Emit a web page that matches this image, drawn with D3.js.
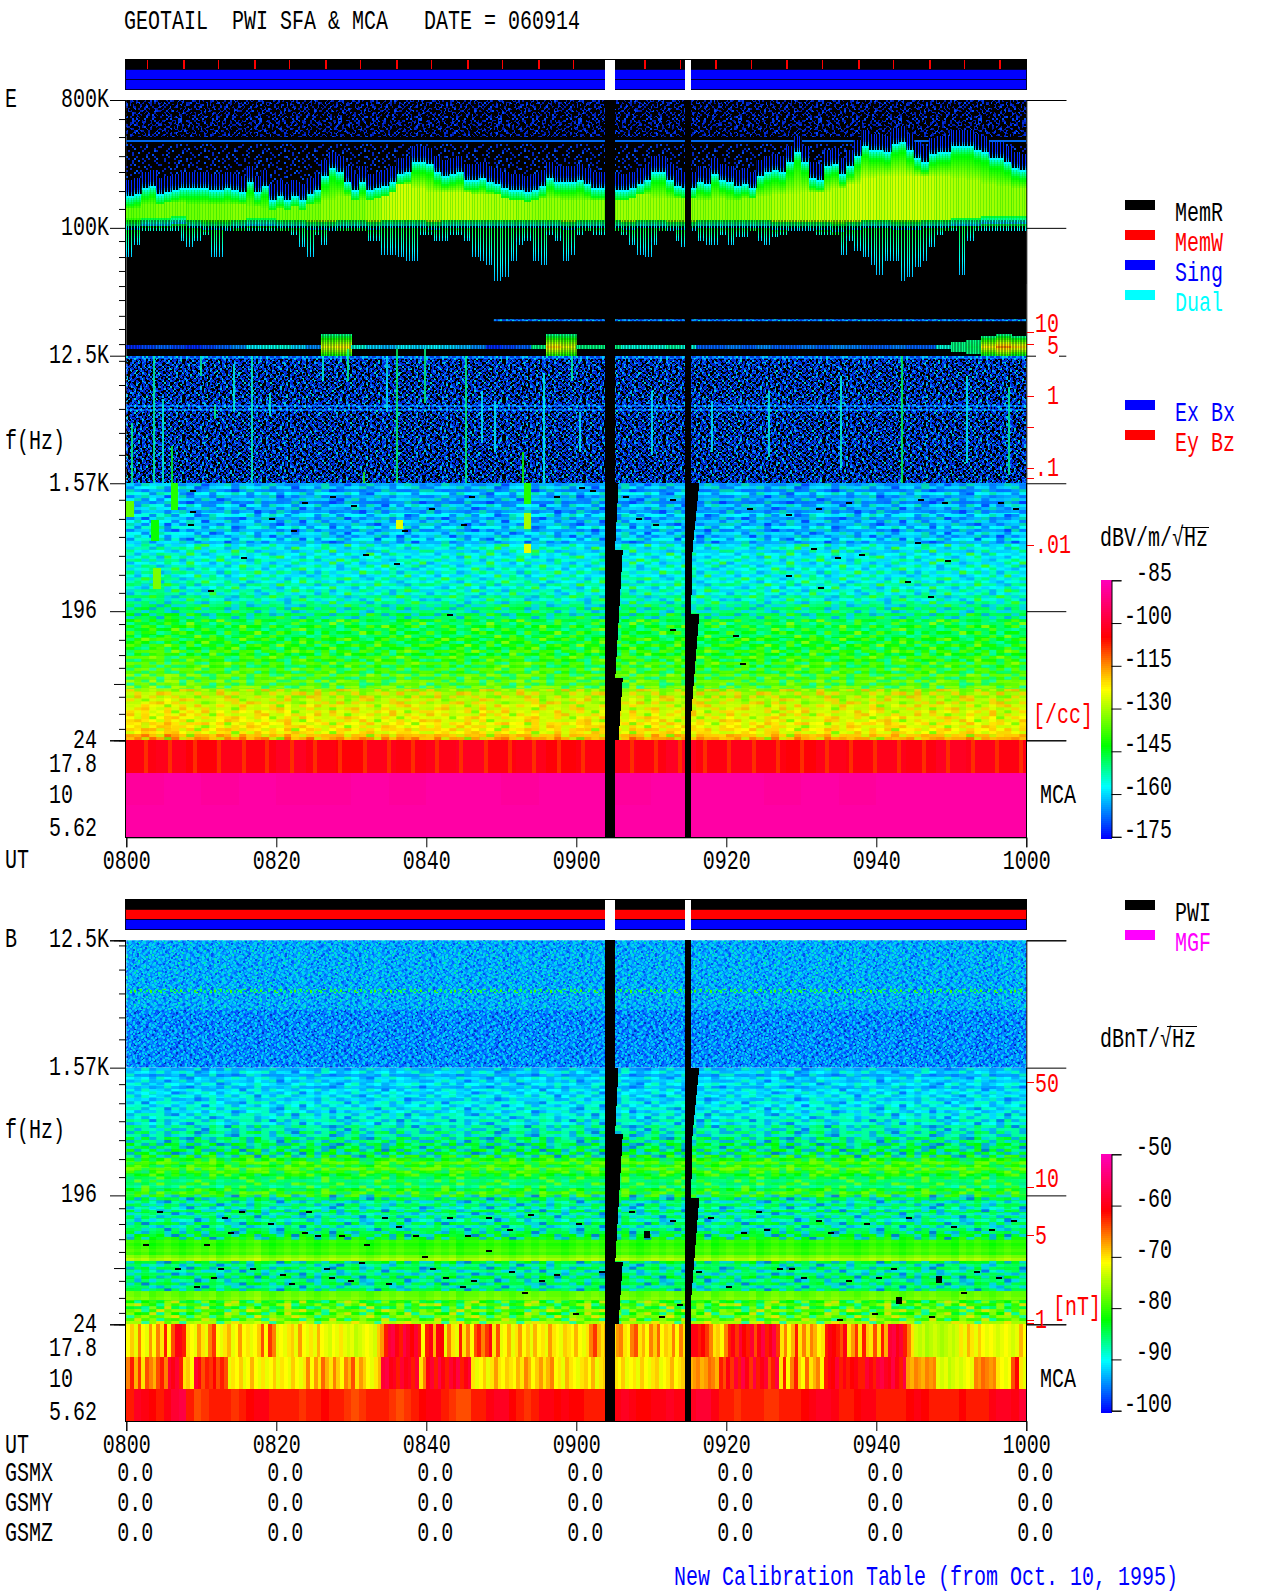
<!DOCTYPE html>
<html>
<head>
<meta charset="utf-8">
<script src="https://cdn.jsdelivr.net/npm/d3@7"></script>
<style>
  html, body { margin: 0; padding: 0; background: #fff; }
  svg { display: block; }
  text { font-family: "Liberation Mono", monospace; white-space: pre; }
</style>
</head>
<body>
<svg id="chart" width="1280" height="1593"></svg>
<script>
// time axis, minutes after 0800
const utTicks = [0, 20, 40, 60, 80, 100, 120];
const utLabels = ["0800", "0820", "0840", "0900", "0920", "0940", "1000"];
const gsmX = [0, 0, 0, 0, 0, 0, 0];
const gsmY = [0, 0, 0, 0, 0, 0, 0];
const gsmZ = [0, 0, 0, 0, 0, 0, 0];

// frequency ticks (Hz)
const majorHz = [800000, 100000, 12500, 1570, 196, 24];
const minorHz = [587000, 438000, 321000, 248000, 182000, 136000, 80700, 62200, 49600, 38800, 30900, 23900, 19300, 15100, 11500, 7760, 5260, 3560, 2490, 1200, 879, 656, 482, 354, 264, 159, 123, 96, 78, 48.7, 36.9, 28.9];
const midHz = [60];
const mcaChannels = ["17.8", "10", "5.62"];

// data gaps, minutes
const gapSpans = [[63.83, 65.17], [74.48, 75.35]];
// gap right edge as it walks down the low frequency bands [minute, Hz]
const gapEdge1 = [[65.17, 1570], [65.63, 1570], [65.17, 531], [66.2, 531], [65.2, 66.5], [66.2, 66.5], [65.63, 24], [65.17, 24]];
const gapEdge2 = [[75.35, 1570], [76.4, 1570], [75.5, 531], [75.3, 187], [76.4, 187], [75.3, 35], [75.3, 24]];

// red marks in the mode bar, minutes
const modeMarks = [2.8, 7.53, 12.27, 17, 21.73, 26.47, 31.2, 35.93, 40.67, 45.4, 50.13, 54.87, 59.6, 69.05, 73.8, 78.5, 83.3, 88, 92.7, 97.5, 102.2, 107, 111.7, 116.4];

// E field, main band, one value per minute, channels counted down from 800K (128 channels to 12.5K)
const bandTop = [45, 44, 41, 40, 44, 43, 42, 41, 41, 41, 41, 42, 42, 41, 42, 43, 38, 43, 40, 47, 45, 47, 45, 47, 44, 42, 35, 31, 33, 38, 42, 38, 42, 41, 40, 38, 34, 33, 28, 28, 29, 33, 35, 34, 33, 37, 37, 36, 38, 39, 41, 42, 42, 43, 42, 40, 36, 38, 38, 38, 37, 39, 41, 41, 41, 42, 42, 41, 39, 37, 33, 33, 37, 40, 41, 41, 38, 39, 34, 37, 38, 40, 39, 41, 35, 33, 32, 33, 28, 23, 28, 36, 37, 30, 29, 34, 30, 25, 20, 22, 22, 23, 19, 18, 22, 26, 28, 24, 23, 23, 20, 20, 20, 22, 23, 26, 26, 28, 31, 32];
const tailBottom = [78, 72, 65, 65, 65, 65, 65, 70, 73, 70, 67, 78, 78, 65, 65, 65, 65, 65, 65, 65, 65, 65, 67, 73, 78, 67, 72, 65, 65, 65, 65, 65, 70, 70, 77, 77, 78, 80, 80, 67, 67, 70, 70, 67, 67, 70, 78, 80, 82, 90, 88, 80, 72, 70, 80, 82, 67, 70, 80, 77, 67, 65, 67, 67, 65, 65, 67, 72, 77, 78, 72, 65, 65, 70, 73, 65, 70, 72, 72, 67, 72, 68, 68, 65, 70, 72, 68, 67, 65, 65, 65, 65, 67, 67, 67, 77, 70, 75, 78, 82, 87, 80, 80, 90, 88, 83, 80, 73, 67, 65, 65, 87, 70, 65, 65, 65, 65, 65, 65, 65];
// one value per 2 minutes
const coreTop = [54, 52, 51, 51, 52, 52, 52, 52, 53, 54, 54, 53, 52, 50, 48, 50, 47, 44, 42, 44, 46, 46, 46, 47, 47, 47, 48, 49, 49, 50, 50, 50, 50, 48, 47, 49, 49, 48, 50, 49, 50, 49, 48, 47, 47, 46, 46, 44, 42, 39, 38, 38, 38, 38, 38, 39, 40, 42, 43, 44];
const coreBottom = [58, 58, 59, 59, 59, 59, 59, 60, 60, 60, 60, 60, 60, 60, 59, 59, 60, 60, 61, 61, 60, 60, 60, 60, 60, 60, 60, 60, 59, 60, 60, 60, 60, 60, 59, 60, 60, 60, 60, 60, 60, 60, 60, 61, 61, 60, 60, 60, 60, 60, 59, 59, 59, 59, 60, 60, 59, 59, 58, 58];
const bandBottom = [65, 63, 63, 62, 64, 65, 65, 64, 63, 63, 64, 64, 65, 65, 64, 64, 65, 64, 64, 64, 65, 64, 64, 64, 64, 64, 64, 64, 64, 65, 64, 64, 64, 65, 64, 64, 65, 65, 64, 64, 64, 64, 64, 65, 65, 65, 65, 66, 65, 64, 64, 65, 65, 64, 64, 63, 63, 62, 62, 62];
const coreDb = [-135, -134, -133, -133, -134, -133, -133, -132, -133, -134, -133, -133, -133, -131, -131, -132, -130, -127, -126, -127, -128, -127, -127, -128, -129, -129, -130, -131, -131, -131, -131, -131, -130, -130, -130, -130, -131, -131, -131, -131, -132, -131, -130, -129, -128, -128, -127, -128, -126, -126, -127, -126, -126, -127, -128, -129, -129, -130, -131, -131];

// narrow line near 12.5K, level (dB) and half height (channels), one value per 2 minutes
const lineDb = [-172, -170, -168, -170, -172, -170, -168, -165, -158, -156, -155, -160, -165, -125, -122, -155, -160, -162, -158, -160, -158, -160, -162, -165, -172, -170, -168, -150, -120, -125, -150, -150, -150, -155, -155, -155, -152, -155, -168, -168, -166, -168, -165, -168, -168, -166, -168, -165, -166, -168, -168, -166, -168, -168, -155, -150, -148, -122, -115, -120];
const lineHalf = [1, 1, 1, 1, 1, 1, 1, 1, 1, 1, 1, 1, 1, 6, 6, 1, 1, 1, 1, 1, 1, 1, 1, 1, 1, 1, 1, 1, 6, 6, 1, 1, 1, 1, 1, 1, 1, 1, 1, 1, 1, 1, 1, 1, 1, 1, 1, 1, 1, 1, 1, 1, 1, 1, 1, 2, 3, 5, 6, 5];

// vertical streaks in the 12.5K - 1.57K range [minute, top Hz, bottom Hz, dB]
const streaksE = [[0.6, 4200, 1570, -150], [3.6, 12500, 1570, -152], [4.7, 6200, 1570, -155], [5.9, 2900, 1570, -145], [9.8, 12500, 9000, -152], [11.7, 5500, 4500, -150], [14.2, 11000, 5000, -155], [16.6, 12500, 1570, -154], [19, 6800, 4700, -155], [26.1, 12500, 8300, -155], [29.4, 14000, 8300, -150], [31.6, 1900, 1570, -140], [34.6, 12500, 5000, -158], [35.9, 14000, 1570, -148], [39.7, 14000, 5800, -150], [45.2, 12500, 1570, -150], [47.3, 7000, 3000, -158], [49, 6000, 2600, -158], [52.8, 2600, 1570, -142], [55.5, 9400, 1570, -156], [59.3, 12500, 8300, -152], [60.4, 5000, 2600, -158], [70, 7000, 2500, -158], [78, 6000, 2600, -158], [85.6, 7000, 2400, -156], [95.1, 9000, 2000, -155], [103.3, 12500, 1570, -147], [112, 9000, 2200, -156], [117.5, 7500, 1800, -152]];

// E field, 1.57K - 24 Hz, level of each band row and offset of each time column
const rowsE = [-163, -160, -165, -158, -163, -161, -166, -159, -162, -164, -158, -163, -160, -162, -157, -163, -159, -161, -157, -162,
  -158, -155, -160, -156, -158, -154, -159, -155, -157, -153, -158, -154, -156, -152, -157, -153, -155, -151, -155, -152,
  -150, -147, -151, -146, -149, -145, -148, -144, -147, -143, -147, -142, -145, -141, -144, -139, -143, -138, -141, -137,
  -140, -136, -139, -134, -137, -133, -136, -132, -134, -131, -133, -130, -131, -128, -129, -127, -128, -126, -127, -124, -126, -123, -125, -119, -116];
const colsE = [3, 2, 3, 4, 3, 4, 3, 2, 1, 2, 1, 0, 1, 2, 0, 1, 2, 1, 0, 1, 0, 1, -1, 0, 1, 0, 1, 0, -1, 0, 1, 0, 1, -1, 0, 1, 2, 1, 0, 1, 0, 0, 1, 0, -1, 1, 0, 1, 0, 1, 0, 1, 2, 2, 1, 0, 1, 0, -1, 0, 1, 0, 0, 0, 0, 0, 1, 2, 1, 0, 1, 0, 1, 0, 0, 0, -1, 0, 0, -1, 0, 1, 0, -1, 0, -1, 0, -1, 0, 0, -1, 0, 1, 0, -1, 0, -1, 0, 0, 1, 0, -1, 0, 0, 1, 0, -1, 0, 1, 0, 0, -1, 0, 1, 0, 0, -1, 0, 1, 0];
// time columns where the lowest bands and the 17.8 Hz channel brighten
const stripeMinutes = [2.3, 5.6, 8.9, 12.1, 15.4, 18.5, 21.8, 24.9, 28.2, 31.5, 34.7, 38, 41.2, 44.4, 47.7, 50.9, 54.1, 57.4, 60.6, 63.9, 67.1, 70.4, 73.6, 76.9, 80.1, 83.4, 86.6, 89.8, 93.1, 96.3, 99.6, 102.8, 106.1, 109.3, 112.6, 115.8, 119];
// short brighter patches [minute, first row, last row, dB]
const patchesE = [[3.6, 28, 34, -133], [5.9, 0, 8, -140], [3.3, 12, 18, -142], [0, 6, 10, -135], [35.9, 12, 14, -125], [53, 0, 6, -140], [53, 10, 14, -130], [53, 20, 22, -125]];
// dropped cells [minute, row]
const dropsE = [[8.5, 2], [8.5, 9], [27.2, 4], [23.4, 6], [30, 7], [45.7, 4], [57, 4], [44.6, 13], [8.2, 13], [40.3, 8], [19, 11], [15.3, 24], [31.6, 23], [35.7, 26], [10.9, 35], [42.7, 43], [36.7, 15], [22, 15], [60.4, 1], [61.8, 2], [66.2, 4], [72.5, 5], [68, 11], [70.2, 13], [82.7, 8], [87.9, 10], [91.9, 8], [96, 6], [105.5, 5], [108.7, 6], [116.2, 6], [118.2, 8], [91.3, 21], [94.5, 24], [105.2, 19], [97.7, 23], [87.9, 30], [92.2, 34], [103.8, 32], [106.9, 37], [72.5, 48], [80.9, 50], [81.8, 59], [109.2, 25]];

// E field MCA channels
const mcaE17 = [-103, -102, -104, -102, -103, -101, -103, -104, -102, -103, -102, -101, -103, -102, -104, -103, -102, -103, -101, -103, -102, -103, -104, -102, -103, -102, -103, -101, -102, -103];
const mcaE10 = [-88, -87, -88, -87, -88, -88, -87, -88, -87, -87, -88, -87, -87, -88, -87, -87, -87, -88, -87, -88, -87, -87, -87, -87];
const mcaE5 = [-87, -87, -87, -87, -87, -87, -87, -87, -87, -87, -87, -87];

// B field, 1.57K - 24 Hz
const rowsB = [-93, -91, -94, -91, -92, -90, -93, -90, -91, -89, -92, -89, -90, -88, -91, -88, -89, -87, -89, -86,
  -87, -85, -87, -84, -85, -83, -84, -82, -83, -80, -82, -79, -81, -78, -80, -82, -84, -86, -85, -87, -83, -80,
  -79, -84, -87, -85, -88, -84, -87, -85, -88, -84, -87, -85, -84, -82, -81,
  -80, -81, -80, -79, -80, -77, -75,
  -83, -86, -84, -87, -85, -83, -86, -84, -86, -84,
  -78, -78, -77,
  -83, -80, -84, -79, -82, -78, -80, -75];
const colsB = [1, 0, 1, -1, 0, 1, 0, -1, 0, 1, 0, 1, -1, 0, 1, 0, 1, 2, 0, -1, 0, 1, 0, 1, 0, -1, 0, 1, 0, 0, 1, 0, -1, 0, 1, 0, 1, 0, 0, -1, 0, 1, 0, 1, -1, 0, 0, 1, 0, 1, 0, -1, 0, 1, 0, 1, 0, 0, -1, 0, 1, 0, 1, 0, 0, 0, 1, 0, -1, 0, 1, 0, 1, 0, 0, 0, 0, 1, -1, 0, 1, 0, 0, 1, -1, 0, 1, 0, 1, 0, -1, 0, 1, 0, 1, 0, 0, -1, 0, 1, 0, 1, 0, -1, 0, 1, 0, 1, 0, 0, -1, 1, 0, 1, 0, -1, 0, 1, 0, 0];
const dropsB = [[4.1, 47], [12.7, 49], [18.9, 51], [13.6, 54], [23.4, 54], [34.1, 49], [42.7, 49], [53.6, 48], [57, 68], [52.7, 74], [21.7, 71], [34.6, 71], [11.3, 69], [27, 69], [16.5, 66], [12.2, 66], [26.3, 66], [31, 64], [38.2, 55], [45.1, 55], [50.8, 53], [2.2, 58], [10.3, 58], [31.7, 58], [39.4, 62], [46, 70], [47.9, 60], [42.2, 69], [28.4, 55], [25.1, 55], [69, 54], [72.5, 50], [77.5, 49], [82, 54], [85, 53], [88.4, 66], [93.6, 54], [98.3, 51], [102, 66], [108, 69], [115, 53], [116, 69], [111.3, 74], [96, 70], [60, 51], [73.4, 78], [94.8, 83], [107, 82], [99.4, 81], [59.5, 81], [71, 82], [86.7, 66],
  [6.5, 66], [9, 72], [15, 47], [20.5, 68], [24, 47], [29.5, 70], [36, 52], [40.5, 66], [44.5, 72], [48, 49], [51, 67], [55, 70], [63, 67], [67, 47], [76, 67], [80, 72], [84, 47], [90, 69], [92, 50], [100, 69], [104, 49], [110, 52], [113, 67], [118, 50]];
const blocksB = [[102.6, 76], [108, 69], [69, 54]];

// B field MCA channels, 30 s columns for the two upper ones, 1 min for the lowest
const mcaB17 = [-71, -69, -72, -66, -71, -72, -67, -71, -66, -70, -62, -71, -64, -60, -60, -62, -70, -71, -72, -67, -70, -72, -66, -63, -71, -72, -70, -68, -72, -71, -67, -71, -70, -72, -71, -69, -64, -71, -63, -66, -72,
  -71, -72, -70, -69, -72, -67, -71, -72, -70, -72, -68, -71, -72, -73, -71, -72, -70, -72, -73, -72, -74, -73, -72, -71, -72, -73, -69, -67,
  -62, -58, -57, -60, -62, -57, -59, -61, -58, -62, -71, -62, -60, -68, -60, -61, -72, -66, -70, -72, -62, -70, -66, -71, -64, -62, -66, -63, -60, -70, -64, -72,
  -71, -68, -72, -70, -67, -71, -69, -72, -68, -71, -70, -72, -67, -70, -71, -72, -69, -70, -71, -68, -71, -72, -70, -66, -63, -68, -70, -68,
  -70, -70, -67, -66, -70, -71, -66, -64, -70, -68, -71, -66, -69, -65, -71, -69, -70, -66, -71, -66, -70, -68,
  -60, -60, -62, -61, -63, -66, -70, -69, -71, -66, -62, -60, -63, -58, -61, -62, -58, -64, -60, -57, -62, -60, -57, -63,
  -70, -66, -71, -68, -62, -70, -66, -70, -66, -68, -71, -70, -62, -60, -61, -62, -64, -60, -70, -67, -63, -70, -62, -69,
  -70, -64, -70, -62, -68, -58, -57, -60, -58, -62, -66, -70, -73, -74, -73, -75, -74, -73, -74, -75, -74, -73, -74, -73,
  -70, -72, -68, -70, -72, -69, -71, -72, -71, -72, -73, -72, -71, -72, -73, -72, -68, -71];
const mcaB10 = [-66, -62, -68, -63, -70, -64, -66, -68, -64, -62, -66, -58, -60, -58, -62, -70, -69, -71, -58, -60, -64, -62, -63, -61, -64, -62, -64,
  -72, -70, -71, -69, -72, -71, -68, -71, -72, -70, -72, -71, -69, -72, -70, -71, -72, -69, -71, -72, -70,
  -66, -71, -67, -70, -65, -68, -70, -66, -69, -71, -66, -68, -64, -70, -67, -69, -71, -72, -70, -68,
  -58, -57, -60, -59, -62, -58, -60, -59, -62, -58, -70, -66, -60, -58, -62, -57, -60, -62, -58, -60, -57, -62, -60, -58,
  -70, -72, -71, -69, -72, -70, -67, -70, -71, -69, -70, -71,
  -68, -70, -66, -68, -71, -69, -67, -70, -68, -66, -71, -70, -72, -68, -70, -71, -72, -70, -69, -71, -68, -72, -70, -69,
  -71, -72, -70, -71, -69, -72, -71, -70, -72, -69, -71, -72, -70, -69, -72, -71, -70, -68, -71, -70, -69, -71,
  -68, -67, -66, -68, -67, -65, -66, -68, -62, -64, -60, -63, -58, -62, -57, -60, -63, -57, -62, -60, -58, -64, -62, -57,
  -70, -62, -71, -66, -62, -69, -71, -65, -70, -68, -66, -71, -62, -60, -61, -58, -62, -60, -62, -61, -60, -62,
  -62, -58, -60, -62, -58, -57, -59, -60, -57, -60, -62, -57, -67, -68, -66, -67, -68, -66, -67, -66,
  -72, -73, -72, -74, -73, -72, -73, -72, -71, -72, -66, -67, -65, -66, -67, -66, -70, -71, -72, -71, -64, -61, -70, -72];
const mcaB5 = [-62, -59, -60, -61, -62, -60, -58, -57, -62, -64, -63, -62, -62, -62, -63, -62, -61, -60, -60, -62, -62, -62, -62, -63, -62, -62, -61, -62, -62, -63, -64, -63, -62, -62, -62, -63, -64, -63, -62, -61, -60, -60, -62, -63, -64, -64, -62, -62, -60, -59, -59, -61, -62, -63, -62, -60, -60, -61, -60, -61, -61, -62, -62, -62, -60, -60, -59, -60, -61, -61, -60, -60, -59, -60, -60, -59, -58, -58, -60, -62, -62, -63, -62, -62, -62, -63, -63, -62, -62, -62, -61, -60, -59, -59, -60, -62, -62, -61, -60, -60, -62, -62, -62, -62, -61, -60, -61, -62, -62, -62, -62, -61, -62, -62, -62, -60, -59, -59, -60, -58];

// colour bars
const barTicksE = [-85, -100, -115, -130, -145, -160, -175];
const barTicksB = [-50, -60, -70, -80, -90, -100];

// fill texture for the grainy noise floor and the mottled low bands.
// a drawing style laid over the read levels, not measured values
const grainTile = [
  "0120301102400210310201130021040120310201",
  "1003210204100312002103400120130210010321",
  "2010013021020140230100310204100130201102",
  "0301200140310020102310021003020140320010",
  "1020340210012030100240130210013002010301",
  "0210100301204100320011020301402100130020",
  "3001020140030210120300210014020310100204",
  "0120310020110304001203100210300120401023",
  "1002004130201002103010240100312001020130",
  "2100310201003210040120130301001402103001",
  "0301021004120300210201003120100310020410",
  "1040200310020114002103020100240130210102",
  "0201301020400210310012040210301002013001",
  "2010040123001003020140010321002014001302",
  "0130210300102041002130201004013020100210",
  "1002014010320210030010402103001201030421",
  "3010200301041002013020100321040010230100",
  "0204013002100130210401030020131002104010",
  "1300210140200310020013240100210304001203",
  "0021030201300402101003002014100230201040"
];

const svg = d3.select("#chart");
const defs = svg.append("defs");
const labelFont = 27;

const x = d3.scaleLinear().domain([0, 120]).range([126.3, 1026.3]);
const yE = d3.scaleLog().domain([800000, 24]).range([100, 740.3]);
const yB = d3.scaleLog().domain([12500, 24]).range([940.3, 1324.3]);
const chan = d3.scaleLinear().domain([0, 128]).range([100, 356]);
const minuteCols = d3.scaleBand().domain(d3.range(120)).range([126.3, 1026.3]);
const mcaE = d3.scaleBand().domain(mcaChannels).range([740.3, 837.3]);
const mcaB = d3.scaleBand().domain(mcaChannels).range([1324.3, 1421]);
const rowBandE = d3.scaleBand().domain(d3.range(85)).range([yE(1570), yE(24)]);
const rowBandB = d3.scaleBand().domain(d3.range(85)).range([yB(1570), yB(24)]);

const stops = [0, 0.2, 0.36, 0.58, 0.78, 1];
const stopColors = ["#0000ff", "#00ffff", "#00ff00", "#ffff00", "#ff0000", "#ff00b8"];
const colorE = d3.scaleLinear().domain(stops.map(s => -175 + s * 90)).range(stopColors).clamp(true);
const colorB = d3.scaleLinear().domain(stops.map(s => -100 + s * 50)).range(stopColors).clamp(true);

function label(g, str, px, baseline, color, anchor) {
  return g.append("text")
    .attr("transform", `translate(${px},${baseline}) scale(${12 / (labelFont * 0.6)},1)`)
    .attr("font-size", labelFont)
    .attr("fill", color || "#000")
    .attr("text-anchor", anchor || "start")
    .text(str);
}

// opts: cols and rows kept from the tile, cell size, origin
function makeGrain(id, palette, opts) {
  const o = Object.assign({ cols: 40, rows: 20, w: 2, h: 2, ox: 0, oy: 0 }, opts);
  const p = defs.append("pattern").attr("id", id)
    .attr("patternUnits", "userSpaceOnUse")
    .attr("x", o.ox).attr("y", o.oy)
    .attr("width", o.cols * o.w).attr("height", o.rows * o.h);
  grainTile.slice(0, o.rows).forEach((row, j) => {
    row.slice(0, o.cols).split("").forEach((c, i) => {
      if (palette[+c] === "none") return;
      p.append("rect").attr("x", i * o.w).attr("y", j * o.h).attr("width", o.w).attr("height", o.h)
        .attr("shape-rendering", "crispEdges").attr("fill", palette[+c]);
    });
  });
}
makeGrain("grainTop", ["#000", "#001cb0", "#0030e0", "#000", "#0048ff"]);
makeGrain("grainHaze", ["#000", "#000", "#0024c0", "#000", "#0050f0"]);
makeGrain("grainRow", ["#000", "#0040ff", "#000", "#0050ff", "#000"]);
makeGrain("grainMid", ["#000", "#0030e0", "#0070ff", "#00a8ff", "#00d0d0"]);
makeGrain("grainMidRow", ["#0040e0", "#0080ff", "#00a0ff", "#00c8ff", "#00e0d0"]);
makeGrain("grainB1", ["#0090ff", "#00b8ff", "#0068ff", "#00e0e0", "#00f0a0"]);
makeGrain("grainB2", ["#0078ff", "#0098ff", "#0048ff", "#00c0ff", "#0030c0"]);
makeGrain("grainBLine", ["none", "#00ff60", "none", "#40ff00", "#00e8a0"]);
// shorter tiles laid on top so the repeat does not show
makeGrain("veilDark", ["none", "none", "#000", "none", "#000"], { cols: 37, rows: 17, ox: 5, oy: 3 });
makeGrain("veilBlue", ["none", "#0028d0", "none", "none", "#000"], { cols: 31, rows: 19, ox: 9, oy: 7 });
makeGrain("veilB", ["none", "#00d0f0", "none", "none", "#0050f0"], { cols: 37, rows: 17, ox: 5, oy: 3 });

// mottling of the low bands, one tile cell is one column by one row
function makeMottle(id, palette, rowBand) {
  makeGrain(id, palette, { w: minuteCols.bandwidth(), h: rowBand.bandwidth(), ox: x(0), oy: rowBand(0) });
}
makeMottle("mottleE1", ["none", "#0070ff", "#00e0a0", "none", "#0030ff"], rowBandE);
makeMottle("mottleE2", ["none", "#00d0ff", "#00ff60", "#00a0ff", "#40ff00"], rowBandE);
makeMottle("mottleE3", ["none", "#00ff80", "#60ff00", "#00ffc0", "#a0ff00"], rowBandE);
makeMottle("mottleE4", ["none", "#ffd000", "#c0ff00", "#ffb000", "#60ff00"], rowBandE);
makeMottle("mottleB1", ["none", "#00a0ff", "#00ffb0", "#00d0ff", "#0060ff"], rowBandB);
makeMottle("mottleB2", ["none", "#00ff60", "#80ff00", "#00e8a0", "#40ff00"], rowBandB);
makeMottle("mottleB3", ["none", "#00d0ff", "#00ff40", "#00a0ff", "#0060ff"], rowBandB);
makeMottle("mottleB5", ["none", "#a0ff00", "#00ffc0", "#ffe000", "#40ff00"], rowBandB);
// which rows get which mottling [first row, last row, pattern]
const mottleRowsE = [[0, 19, "mottleE1"], [20, 44, "mottleE2"], [45, 67, "mottleE3"], [68, 84, "mottleE4"]];
const mottleRowsB = [[0, 29, "mottleB1"], [30, 41, "mottleB2"], [42, 56, "mottleB3"], [64, 73, "mottleB3"], [77, 84, "mottleB5"]];

function makeComb(id, color, slots) {
  const p = defs.append("pattern").attr("id", id)
    .attr("patternUnits", "userSpaceOnUse")
    .attr("width", 11).attr("height", 4);
  slots.forEach(s => p.append("rect").attr("x", s[0]).attr("y", 0).attr("width", s[1]).attr("height", 4)
    .attr("shape-rendering", "crispEdges").attr("fill", color));
}
makeComb("combBlack", "#000", [[0, 2], [3, 2], [6, 1], [8, 2]]);
makeComb("combGreen", "#00d800", [[1, 1], [4, 1], [7, 1], [10, 1]]);

function cells(g, data, fill) {
  g.selectAll(null).data(data).join("rect")
    .attr("x", d => d.x).attr("y", d => d.y)
    .attr("width", d => d.w + 0.5).attr("height", d => d.h + 0.5)
    .attr("shape-rendering", "crispEdges")
    .attr("fill", d => fill(d.v));
}

function band(g, top, h, fill, opacity) {
  return g.append("rect").attr("x", x(0)).attr("y", top).attr("width", x(120) - x(0)).attr("height", h)
    .attr("fill", fill).attr("opacity", opacity === undefined ? 1 : opacity);
}

function drawModeBar(top, colors, marks) {
  const g = svg.append("g");
  const rowH = 10.2;
  colors.forEach((c, i) => {
    g.append("rect").attr("x", x(0) - 1).attr("y", top + i * rowH).attr("width", x(120) - x(0) + 1.5).attr("height", rowH)
      .attr("fill", c).attr("stroke", "#000").attr("stroke-width", 0.8).attr("shape-rendering", "crispEdges");
  });
  if (marks) {
    g.selectAll(null).data(marks).join("rect")
      .attr("x", d => x(d)).attr("y", top + 1).attr("width", (d, i) => i % 2 ? 2 : 1).attr("height", rowH - 1.5)
      .attr("fill", "#ff0000").attr("shape-rendering", "crispEdges");
  }
  g.selectAll(null).data(gapSpans).join("rect")
    .attr("x", d => x(d[0])).attr("y", top + 0.5).attr("width", d => x(d[1]) - x(d[0])).attr("height", rowH * colors.length - 0.5)
    .attr("fill", "#fff").attr("shape-rendering", "crispEdges");
}

function drawGaps(g, yScale, topHz, bottomY) {
  const line = d3.line().x(d => x(d[0])).y(d => yScale(d[1]));
  [gapEdge1, gapEdge2].forEach((edge, i) => {
    const left = gapSpans[i][0];
    const right = gapSpans[i][1];
    const poly = [[left, topHz], [right, topHz]].concat(edge).concat([[left, 24]]);
    g.append("path").attr("d", line(poly) + "Z").attr("fill", "#000").attr("shape-rendering", "crispEdges");
    g.append("rect").attr("x", x(left)).attr("y", yScale(24)).attr("width", x(right) - x(left)).attr("height", bottomY - yScale(24))
      .attr("fill", "#000").attr("shape-rendering", "crispEdges");
  });
}

function drawAxes(yScale, hzList, bottomY) {
  const g = svg.append("g");
  const hz = hzList.filter(f => f <= yScale.domain()[0]);
  const ax = (axis, tx, ty) => g.append("g").attr("transform", `translate(${tx},${ty})`).call(axis);
  ax(d3.axisLeft(yScale).tickValues(minorHz.filter(f => f <= yScale.domain()[0])).tickSize(6).tickFormat(""), x(0) - 1.3, 0);
  ax(d3.axisLeft(yScale).tickValues(midHz).tickSize(11).tickFormat(""), x(0) - 1.3, 0);
  ax(d3.axisLeft(yScale).tickValues(hz).tickSize(15).tickFormat(""), x(0) - 1.3, 0);
  ax(d3.axisRight(yScale).tickValues(hz).tickSize(40).tickFormat(""), x(120), 0);
  const bottom = ax(d3.axisBottom(x).tickValues(utTicks).tickSize(10).tickFormat((d, i) => utLabels[i]), 0, bottomY);
  bottom.selectAll("text")
    .attr("y", 32).attr("dy", 0)
    .attr("font-size", labelFont)
    .attr("transform", `scale(${12 / (labelFont * 0.6)},1)`)
    .attr("fill", "#000");
  g.selectAll("text").attr("font-family", "Liberation Mono");
  g.selectAll(".domain").attr("stroke", "#000");
  // frame on the left, right and bottom of the picture
  g.append("path").attr("d", `M${x(0) - 1},${yScale.range()[0]}V${bottomY}H${x(120)}V${yScale(1570)}`)
    .attr("fill", "none").attr("stroke", "#000").attr("shape-rendering", "crispEdges");
}

function drawMcaBand(g, values, bandScale, channel, fill) {
  const n = values.length;
  const w = (x(120) - x(0)) / n;
  cells(g, values.map((v, i) => ({ x: x(0) + i * w, y: bandScale(channel), w: w, h: bandScale.bandwidth(), v: v })), fill);
}

function drawLowBands(g, rows, cols, rowBand, fill, stripeFrom, mottles) {
  const stripeCols = new Set(stripeMinutes.map(m => Math.floor(m)));
  const data = [];
  rows.forEach((rv, r) => {
    cols.forEach((cv, t) => {
      let v = rv + cv;
      if (stripeFrom !== null && r >= stripeFrom && stripeCols.has(t)) v += 3;
      data.push({ x: minuteCols(t), y: rowBand(r), w: minuteCols.bandwidth(), h: rowBand.bandwidth(), v: v });
    });
  });
  cells(g, data, fill);
  mottles.forEach(m => {
    band(g, rowBand(m[0]), rowBand(m[1]) + rowBand.bandwidth() - rowBand(m[0]), `url(#${m[2]})`, 0.8);
  });
}

function drawDrops(g, drops, rowBand) {
  g.selectAll(null).data(drops).join("rect")
    .attr("x", d => x(d[0])).attr("y", d => rowBand(d[1]) + 1)
    .attr("width", 6).attr("height", 2)
    .attr("fill", "#000").attr("shape-rendering", "crispEdges");
}

// ---------- E panel ----------
label(svg, "GEOTAIL  PWI SFA & MCA   DATE = 060914", 124, 29);
drawModeBar(59, ["#000", "#0000ff", "#0000ff"], modeMarks);

const panelE = svg.append("g");
band(panelE, 100, 256, "#000");
band(panelE, 100, 37, "url(#grainTop)");
band(panelE, 100, 37, "url(#veilDark)");
band(panelE, 118, 2, "url(#grainRow)");
band(panelE, chan(20), 2, "#0068f0");

// main band, haze above it then body
const hazeData = bandTop.map((t, i) => ({ x: minuteCols(i), y: chan(22), w: minuteCols.bandwidth(), h: chan(t) - chan(22) }));
panelE.selectAll(null).data(hazeData).join("rect")
  .attr("x", d => d.x).attr("y", d => d.y).attr("width", d => d.w + 0.5).attr("height", d => Math.max(d.h, 0))
  .attr("fill", "url(#grainHaze)");

const bandCells = [];
const tailCells = [];
bandTop.forEach((top, t) => {
  const k = Math.floor(t / 2);
  const bot = bandBottom[k];
  const cTop = Math.max(coreTop[k], top + 8);
  const cBot = Math.max(coreBottom[k], cTop + 1);
  const level = d3.scaleLinear()
    .domain([top, top + 3, top + 7, cTop, Math.min(cBot, bot - 5), bot - 4, bot - 1])
    .range([-170, -157, -144, coreDb[k], coreDb[k], -146, -160])
    .clamp(true);
  // blue fuzz on top of the band
  for (let c = top - 5; c < top; c++) {
    bandCells.push({ x: minuteCols(t), y: chan(c), w: minuteCols.bandwidth(), h: 2, v: -172 });
  }
  for (let c = top; c < bot; c++) {
    bandCells.push({ x: minuteCols(t), y: chan(c), w: minuteCols.bandwidth(), h: 2, v: level(c) });
  }
  const tail = d3.scaleLinear().domain([bot, tailBottom[t]]).range([-146, -162]);
  for (let c = bot; c < tailBottom[t]; c++) {
    tailCells.push({ x: minuteCols(t), y: chan(c), w: minuteCols.bandwidth(), h: 2, v: tail(c) });
  }
});
cells(panelE, bandCells, colorE);
cells(panelE, tailCells, colorE);
// fine vertical structure of the band
panelE.selectAll(null).data(bandTop).join("rect")
  .attr("x", (d, i) => minuteCols(i)).attr("y", d => chan(d + 4))
  .attr("width", minuteCols.bandwidth() + 0.5).attr("height", (d, i) => chan(bandBottom[Math.floor(i / 2)] - 1) - chan(d + 4))
  .attr("fill", "url(#combGreen)").attr("opacity", 0.35);
panelE.selectAll(null).data(bandTop).join("rect")
  .attr("x", (d, i) => minuteCols(i)).attr("y", d => chan(d - 5))
  .attr("width", minuteCols.bandwidth() + 0.5).attr("height", chan(8) - chan(0))
  .attr("fill", "url(#combBlack)");
band(panelE, chan(60), chan(63) - chan(60), "url(#combBlack)", 0.5);
band(panelE, chan(63), chan(92) - chan(63), "url(#combBlack)");

// dashed line around 25K and the line just above 12.5K
panelE.append("rect").attr("x", x(49)).attr("y", chan(109.6)).attr("width", x(120) - x(49)).attr("height", 2).attr("fill", "url(#grainMidRow)");
const lineCells = [];
lineDb.forEach((v, i) => {
  const h = lineHalf[i];
  lineCells.push({ x: x(i * 2), y: chan(122.5), w: x(2) - x(0), h: chan(124) - chan(122.5), v: v });
  if (h > 1) {
    // a burst spreads above and below the line, fainter towards its edges
    const fade = d3.scaleLinear().domain([0, h]).range([v, -150]);
    for (let c = 1; c <= h; c++) {
      lineCells.push({ x: x(i * 2), y: chan(123 - c), w: x(2) - x(0), h: 1, v: fade(c) });
      lineCells.push({ x: x(i * 2), y: chan(123 + c), w: x(2) - x(0), h: 1, v: fade(c) });
    }
  }
});
cells(panelE, lineCells, colorE);
band(panelE, chan(116), chan(128) - chan(116), "url(#combBlack)", 0.35);

// 12.5K to 1.57K, noise floor
band(panelE, 356, 128, "url(#grainMid)");
band(panelE, 356, 128, "url(#veilBlue)");
band(panelE, 356, 3, "url(#grainMidRow)");
band(panelE, 405, 2, "url(#grainMidRow)");
band(panelE, 409, 2, "url(#grainMidRow)");
panelE.selectAll(null).data(streaksE).join("rect")
  .attr("x", d => x(d[0])).attr("y", d => yE(d[1]))
  .attr("width", 2).attr("height", d => yE(d[2]) - yE(d[1]))
  .attr("fill", d => colorE(d[3])).attr("opacity", 0.8).attr("shape-rendering", "crispEdges");

// 1.57K to 24 Hz
drawLowBands(panelE, rowsE, colsE, rowBandE, colorE, 70, mottleRowsE);
patchesE.forEach(p => {
  panelE.append("rect").attr("x", x(p[0])).attr("y", rowBandE(p[1]))
    .attr("width", 7.5).attr("height", rowBandE(p[2]) - rowBandE(p[1]) + rowBandE.bandwidth())
    .attr("fill", colorE(p[3])).attr("shape-rendering", "crispEdges");
});
drawDrops(panelE, dropsE, rowBandE);

// MCA
drawMcaBand(panelE, mcaE17, mcaE, "17.8", colorE);
panelE.selectAll(null).data(stripeMinutes).join("rect")
  .attr("x", d => x(d)).attr("y", mcaE("17.8")).attr("width", 4).attr("height", mcaE.bandwidth())
  .attr("fill", colorE(-108)).attr("shape-rendering", "crispEdges");
drawMcaBand(panelE, mcaE10, mcaE, "10", colorE);
drawMcaBand(panelE, mcaE5, mcaE, "5.62", colorE);
drawGaps(panelE, yE, 800000, 837.3);
drawAxes(yE, majorHz, 837.3);

[["E", 5, 107], ["800K", 61, 107], ["100K", 61, 235], ["12.5K", 49, 363], ["f(Hz)", 5, 449], ["1.57K", 49, 491], ["196", 61, 618], ["24", 73, 748], ["17.8", 49, 772], ["10", 49, 803], ["5.62", 49, 836], ["UT", 5, 868]]
  .forEach(d => label(svg, d[0], d[1], d[2]));

// density scale on the right, red
const densityTicksE = [332, 344, 396, 427, 468, 478, 545];
svg.selectAll(null).data(densityTicksE).join("rect")
  .attr("x", 1027).attr("y", d => d).attr("width", 7).attr("height", 1).attr("fill", "#ff0000");
// clear the black rule behind the "5"
svg.append("rect").attr("x", 1036).attr("y", 353).attr("width", 23).attr("height", 5).attr("fill", "#fff");
const densityE = [["10", 1035, 332], ["5", 1047, 354], ["1", 1047, 404], [".1", 1035, 476], [".01", 1035, 553], ["[/cc]", 1033, 723]];
densityE.forEach(d => label(svg, d[0], d[1], d[2], "#ff0000"));
label(svg, "MCA", 1040, 803);

// legend, E panel
const legendE = [["MemR", "#000", 200], ["MemW", "#ff0000", 230], ["Sing", "#0000ff", 260], ["Dual", "#00ffff", 290], ["Ex Bx", "#0000ff", 400], ["Ey Bz", "#ff0000", 430]];
function drawLegend(rows) {
  rows.forEach(d => {
    svg.append("rect").attr("x", 1125).attr("y", d[2]).attr("width", 30).attr("height", 10).attr("fill", d[1]);
    label(svg, d[0], 1175, d[2] + 21, d[1]);
  });
}
drawLegend(legendE);

function drawColorBar(top, bottom, domain, ticks, fill, unit, unitY, rootFrom, rootTo, rootY) {
  const bar = d3.scaleLinear().domain(domain).range([top, bottom]);
  const steps = d3.range(domain[0], domain[1] - 0.01, (domain[1] - domain[0]) / 128);
  svg.selectAll(null).data(steps).join("rect")
    .attr("x", 1100.5).attr("y", d => bar(d)).attr("width", 11).attr("height", (bottom - top) / 128 + 0.6)
    .attr("fill", d => fill(d)).attr("shape-rendering", "crispEdges");
  const ax = svg.append("g").attr("transform", "translate(1111.5,0)")
    .call(d3.axisRight(bar).tickValues(ticks).tickSize(10).tickFormat(""));
  ax.selectAll(".domain").attr("stroke", "#000");
  ticks.forEach(t => label(svg, String(t), 1172, bar(t) + 1, "#000", "end"));
  label(svg, unit, 1100, unitY);
  svg.append("line").attr("x1", rootFrom).attr("x2", rootTo).attr("y1", rootY).attr("y2", rootY)
    .attr("stroke", "#000").attr("shape-rendering", "crispEdges");
}
drawColorBar(580.3, 836.8, [-85, -175], barTicksE, colorE, "dBV/m/\u221aHz", 546, 1181, 1209, 527);

// ---------- B panel ----------
drawModeBar(899, ["#000", "#ff0000", "#0000ff"]);
const panelB = svg.append("g");
band(panelB, 940.3, 70, "url(#grainB1)");
band(panelB, 1010, yB(1570) - 1010, "url(#grainB2)");
band(panelB, 940.3, yB(1570) - 940.3, "url(#veilB)");
band(panelB, yB(5660), 4, "url(#grainBLine)");
drawLowBands(panelB, rowsB, colsB, rowBandB, colorB, null, mottleRowsB);
drawDrops(panelB, dropsB, rowBandB);
panelB.selectAll(null).data(blocksB).join("rect")
  .attr("x", d => x(d[0])).attr("y", d => rowBandB(d[1]))
  .attr("width", 6).attr("height", 7)
  .attr("fill", "#000").attr("shape-rendering", "crispEdges");
drawMcaBand(panelB, mcaB17, mcaB, "17.8", colorB);
drawMcaBand(panelB, mcaB10, mcaB, "10", colorB);
drawMcaBand(panelB, mcaB5, mcaB, "5.62", colorB);
drawGaps(panelB, yB, 12500, 1421);
drawAxes(yB, majorHz, 1421);

[["B", 5, 947], ["12.5K", 49, 947], ["f(Hz)", 5, 1138], ["1.57K", 49, 1075], ["196", 61, 1202], ["24", 73, 1332], ["17.8", 49, 1356], ["10", 49, 1387], ["5.62", 49, 1420], ["UT", 5, 1453]]
  .forEach(d => label(svg, d[0], d[1], d[2]));

const densityTicksB = [1082, 1187, 1235, 1320, 1323];
svg.selectAll(null).data(densityTicksB).join("rect")
  .attr("x", 1027).attr("y", d => d).attr("width", 7).attr("height", 1).attr("fill", "#ff0000");
const densityB = [["50", 1035, 1092], ["10", 1035, 1187], ["5", 1035, 1244], ["1", 1035, 1328], ["[nT]", 1053, 1315]];
densityB.forEach(d => label(svg, d[0], d[1], d[2], "#ff0000"));
label(svg, "MCA", 1040, 1387);
drawLegend([["PWI", "#000", 900], ["MGF", "#ff00ff", 930]]);
drawColorBar(1154.3, 1410.7, [-50, -100], barTicksB, colorB, "dBnT/\u221aHz", 1047, 1167, 1197, 1026);

// orbit rows
const orbitRows = [["GSMX", gsmX, 1481], ["GSMY", gsmY, 1511], ["GSMZ", gsmZ, 1541]];
orbitRows.forEach(row => {
  label(svg, row[0], 5, row[2]);
  row[1].forEach((v, i) => label(svg, v.toFixed(1), x(utTicks[i]) + 9, row[2], "#000", "middle"));
});

label(svg, "New Calibration Table (from Oct. 10, 1995)", 674, 1585, "#0000ff");
</script>
</body>
</html>
